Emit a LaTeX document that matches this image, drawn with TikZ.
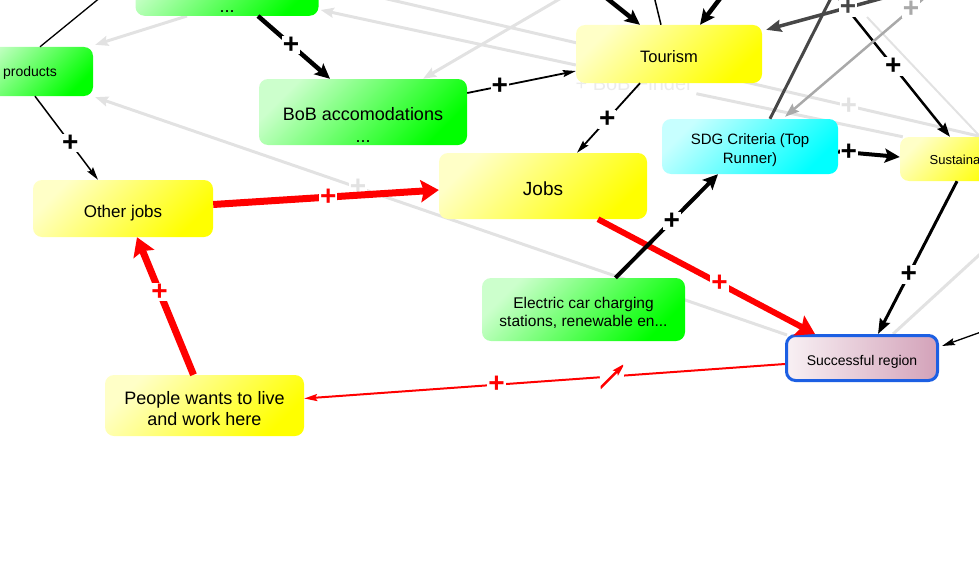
\documentclass[tikz,border=0pt]{standalone}
\usepackage{fontspec}
\setmainfont{Liberation Sans}
\usetikzlibrary{arrows.meta,calc,backgrounds}
\definecolor{boxgreen}{HTML}{00FF00}
\definecolor{boxyellow}{HTML}{FFFF00}
\definecolor{boxcyan}{HTML}{00FFFF}
\definecolor{regionpink}{HTML}{D3A2B9}
\definecolor{regionedge}{HTML}{1C5FE3}
\definecolor{linkred}{HTML}{FF0000}
\definecolor{paleline}{HTML}{E2E2E2}
\definecolor{midline}{HTML}{A9A9A9}
\definecolor{darkline}{HTML}{474747}

\begin{document}
\begin{tikzpicture}[x=1pt,y=-1pt,
box/.style={rounded corners=9pt,align=center,inner sep=2pt,text depth=0pt},
grn/.style={box,left color=boxgreen!20!white,middle color=boxgreen!62!white,right color=boxgreen,shading angle=45},
yel/.style={box,left color=boxyellow!22!white,middle color=boxyellow!75!white,right color=boxyellow,shading angle=45},
cyn/.style={box,left color=boxcyan!22!white,middle color=boxcyan!62!white,right color=boxcyan,shading angle=45},
plus/.style={fill=white,inner sep=1pt,font=\fontsize{28}{28}\selectfont\bfseries},
lnk/.style={line width=1.8pt,-{Stealth[length=13pt,width=7pt,inset=2pt]}},
boldlnk/.style={line width=4.5pt,-{Stealth[length=15pt,width=14pt,inset=3pt]}},
redlnk/.style={draw=linkred,line width=7pt,-{Stealth[length=18pt,width=22pt,inset=3pt]}},
palelnk/.style={draw=paleline,line width=3pt,-{Stealth[length=13pt,width=10pt,inset=2pt]}},
delay/.style={sloped,fill=white,minimum width=24pt,minimum height=24pt,inner sep=0pt,
  path picture={\draw[linkred,line width=2.5pt] (path picture bounding box.south west)--(path picture bounding box.north east);}}]
\useasboundingbox (0,0) rectangle (979,578);

\node[grn,minimum width=183pt,text height=52pt,inner ysep=3pt,anchor=south,font=\fontsize{18}{22}\selectfont] (upper) at (227,16) {...};
\node[grn,minimum width=126pt,minimum height=49pt,text height=11pt,font=\fontsize{14}{17}\selectfont] (products) at (30,71.5) {products};
\node[grn,minimum width=208pt,minimum height=66pt,text height=60pt,font=\fontsize{18}{22}\selectfont] (bob) at (363,112) {BoB accomodations\\...};
\node[yel,minimum width=186pt,minimum height=58pt,text height=18pt,font=\fontsize{16.5}{20}\selectfont] (tourism) at (669,54) {Tourism};
\node[yel,minimum width=208pt,minimum height=66pt,text height=18pt,font=\fontsize{19}{23}\selectfont] (jobs) at (543,186) {Jobs};
\node[yel,minimum width=180pt,minimum height=57pt,text height=17pt,font=\fontsize{17}{20}\selectfont] (other) at (123,208.5) {Other jobs};
\node[cyn,minimum width=176pt,minimum height=55pt,text height=33pt,font=\fontsize{15}{19}\selectfont] (sdg) at (750,146.5) {SDG Criteria (Top\\Runner)};
\node[yel,minimum width=110pt,minimum height=44pt,text height=10pt,font=\fontsize{13}{16}\selectfont] (sustain) at (955,159) {Sustaina};
\node[grn,minimum width=203pt,minimum height=63pt,text height=33pt,font=\fontsize{15.5}{18}\selectfont] (charging) at (583.5,309.5) {Electric car charging\\stations, renewable en...};
\node[box,draw=regionedge,line width=3pt,left color=regionpink!16!white,right color=regionpink,minimum width=151pt,minimum height=45pt,text height=14pt,font=\fontsize{14}{17}\selectfont] (region) at (862,358) {Successful region};
\node[yel,minimum width=199pt,minimum height=61pt,text height=39pt,font=\fontsize{18}{21}\selectfont] (people) at (204.5,405.5) {People wants to live\\and work here};

\coordinate (t1) at (112,-12);
\coordinate (t2) at (370,-5);
\coordinate (t3) at (1000,141);
\coordinate (t4) at (575,-10);
\coordinate (t5) at (990,245);
\coordinate (t6) at (867,17);
\coordinate (t7) at (990,147);
\coordinate (t8) at (599,-8);
\coordinate (t9) at (653,-8);
\coordinate (t10) at (725,-8);
\coordinate (t11) at (835,-10);
\coordinate (t12) at (832,-10);
\coordinate (t13) at (905,-8);
\coordinate (t14) at (930,-7);
\coordinate (t15) at (995,327);

\begin{scope}[on background layer]
\node[anchor=base west,text=black!8,font=\fontsize{20}{24}\selectfont] (finder) at (572,90) {+ BoB Finder};
\draw[palelnk] ($(upper.south)+(-40,0)$)--($(products.north east)+(2,-2)$);
\draw[palelnk,-] (t2)--(t3) node[pos=.76,plus,text=paleline]{+};
\draw[palelnk] ($(tourism.west)+(0,11)$)--($(upper.south east)+(2,-6)$);
\draw[palelnk,-] (finder.south east)--($(sustain.north west)+(3,0)$);
\draw[palelnk] (t4)--($(bob.north)+(60,0)$);
\draw[palelnk] ($(region.north west)+(2,1)$)--($(products.south east)+(2,1)$) node[pos=.62,plus,text=paleline]{+};
\draw[palelnk,-] ($(region.north)+(31,0)$)--(t5);
\draw[palelnk,-,line width=2pt] (t6)--(t7);
\end{scope}

\draw[line width=1.3pt] ($(products.north)+(10,0)$)--(t1);
\draw[lnk,line width=1.5pt] ($(products.south)+(5,0)$)--($(other.north)+(-25,0)$) node[pos=.56,plus]{+};
\draw[boldlnk] ($(upper.south)+(31,0)$)--($(bob.north)+(-33,0)$) node[pos=.46,plus]{+};
\draw[lnk] ($(bob.east)+(0,-19)$)--($(tourism.west)+(0,17)$) node[pos=.3,plus]{+};
\draw[lnk] ($(tourism.south)+(-29,0)$)--($(jobs.north)+(34,0)$) node[pos=.52,plus]{+};
\draw[boldlnk] (t8)--($(tourism.north)+(-29,0)$);
\draw[line width=1.5pt] ($(tourism.north)+(-8,0)$)--(t9);
\draw[boldlnk] (t10)--($(tourism.north)+(31,0)$);
\draw[redlnk] ($(other.east)+(0,-4)$)--($(jobs.west)+(0,4)$) node[pos=.51,plus,text=linkred]{+};
\draw[redlnk,line width=6pt] ($(jobs.south)+(55,0)$)--($(region.north)+(-47,0)$) node[pos=.56,plus,text=linkred]{+};
\draw[redlnk] ($(people.north)+(-11,0)$)--($(other.south)+(14,0)$) node[pos=.6,plus,text=linkred]{+};
\draw[lnk,draw=linkred,line width=2pt] ($(region.west)+(0,6)$)--($(people.east)+(0,-7)$) node[pos=.36,delay]{} node[pos=.6,plus,text=linkred]{+};
\draw[boldlnk,line width=4pt] ($(charging.north)+(32,0)$)--($(sdg.south)+(-32,0)$) node[pos=.55,plus]{+};
\draw[boldlnk,line width=4pt] ($(sdg.east)+(0,5)$)--($(sustain.west)+(0,-2)$) node[pos=.17,plus]{+};
\draw[line width=3pt,-{Stealth[length=15pt,width=11pt,inset=2pt]}] ($(sustain.south)+(2,0)$)--($(region.north)+(16,0)$) node[pos=.61,plus]{+};
\draw[line width=2.5pt,-{Stealth[length=14pt,width=10pt,inset=2pt]}] (t12)--($(sustain.north)+(-5,0)$) node[pos=.52,plus]{+};
\draw[draw=darkline,line width=3pt] ($(sdg.north)+(20,0)$)--(t11);
\draw[draw=darkline,line width=3.5pt,-{Stealth[length=15pt,width=12pt,inset=2pt]}] (t13)--($(tourism.north east)+(4,5)$) node[pos=.41,plus,text=darkline]{+};
\draw[draw=midline,line width=2.5pt,-{Stealth[length=14pt,width=10pt,inset=2pt]}] (t14)--($(sdg.north)+(35,-2)$) node[pos=.13,plus,text=midline]{+};
\draw[lnk,line width=1.3pt] (t15)--($(region.east)+(3,-12)$);
\end{tikzpicture}
\end{document}
